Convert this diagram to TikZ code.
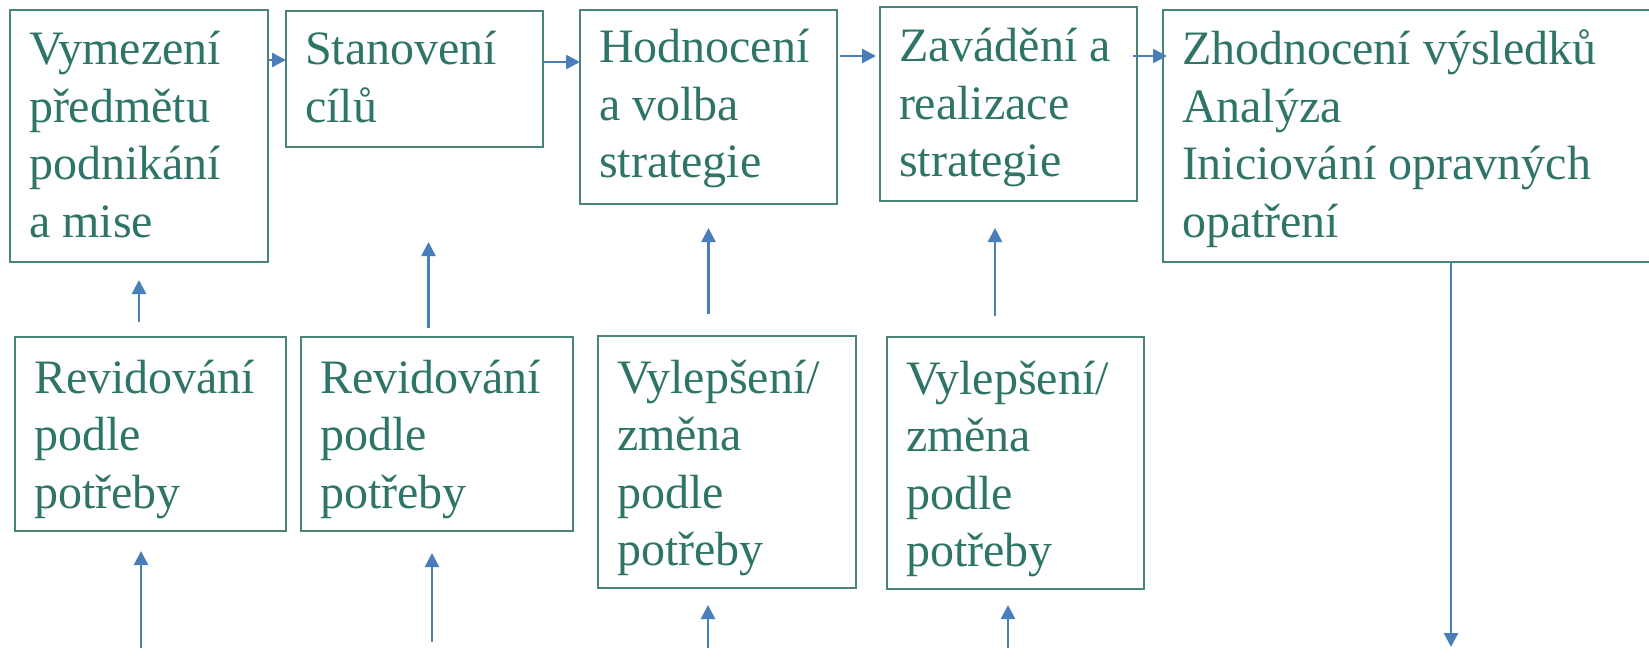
\documentclass[tikz,border=0pt]{standalone}
\usepackage{fontspec}
\setmainfont{Liberation Serif}
\usetikzlibrary{arrows.meta}
\definecolor{txt}{RGB}{46,117,103}
\definecolor{brd}{RGB}{72,132,120}
\definecolor{arw}{RGB}{74,126,187}
\newcommand{\bxt}[4]{\parbox[t][#2][t]{#1}{\leftskip=19pt\fontsize{48pt}{57.5pt}\selectfont\rule{0pt}{#3}#4}}
\begin{document}
\begin{tikzpicture}[x=1pt,y=-1pt,
  box/.style={draw=brd,line width=1.3pt,inner sep=0pt,outer sep=0pt,anchor=north west,text=txt},
  arr/.style={draw=arw,line width=2.5pt,-{Triangle[length=14pt,width=14pt]}}]
\useasboundingbox (0,0) rectangle (1649,661);
\clip (0,0) rectangle (1649,661);
% top row
\node[box] (b1) at (10,10)   {\bxt{258pt}{252pt}{55pt}{Vymezení\\předmětu\\podnikání\\a mise}};
\node[box] (b2) at (286,11)  {\bxt{257pt}{136pt}{54pt}{Stanovení\\cílů}};
\node[box] (b3) at (580,10)  {\bxt{257pt}{194pt}{53pt}{Hodnocení\\a volba\\strategie}};
\node[box] (b4) at (880,7)   {\bxt{257pt}{194pt}{55pt}{Zavádění a\\realizace\\strategie}};
\node[box] (b5) at (1163,10) {\bxt{576pt}{252pt}{55pt}{Zhodnocení výsledků\\Analýza\\Iniciování opravných\\opatření}};
% bottom row
\node[box] (b6) at (15,337)  {\bxt{271pt}{194pt}{56pt}{Revidování\\podle\\potřeby}};
\node[box] (b7) at (301,337) {\bxt{272pt}{194pt}{56pt}{Revidování\\podle\\potřeby}};
\node[box] (b8) at (598,336) {\bxt{258pt}{252pt}{57pt}{Vylepšení/\\změna\\podle\\potřeby}};
\node[box] (b9) at (887,337) {\bxt{257pt}{252pt}{57pt}{Vylepšení/\\změna\\podle\\potřeby}};
% horizontal arrows
\draw[arr] ([yshift=-50pt]b1.north east) -- ([yshift=-49pt]b2.north west);
\draw[arr] ([yshift=-51pt]b2.north east) -- ([yshift=-52pt]b3.north west);
\draw[arr,shorten <=3pt,shorten >=4pt] ([yshift=-46pt]b3.north east) -- ([yshift=-49pt]b4.north west);
\draw[arr,shorten <=-4pt,shorten >=-4pt] ([yshift=-49pt]b4.north east) -- ([yshift=-46pt]b5.north west);
% vertical arrows between rows
\coordinate (c2) at ([xshift=14pt]b2.south);
\coordinate (c4) at ([xshift=-13.5pt]b4.south);
\draw[arr,shorten <=15pt,shorten >=18pt] (b6.north -| b1.south) -- (b1.south);
\draw[arr,shorten <=9pt,shorten >=95pt] (c2 |- b7.north) -- (c2);
\draw[arr,shorten <=22pt,shorten >=24pt] (b8.north -| b3.south) -- (b3.south);
\draw[arr,shorten <=21pt,shorten >=27pt] (c4 |- b9.north) -- (c4);
% bottom arrows
\coordinate (e6) at (141,648);
\coordinate (e7) at (432,642);
\coordinate (e8) at (708,648);
\coordinate (e9) at (1008,648);
\coordinate (e5) at (1451,647);
\draw[arr,shorten >=20pt] (e6) -- (e6 |- b6.south);
\draw[arr,shorten >=22pt] (e7) -- (e7 |- b7.south);
\draw[arr,shorten >=17pt] (e8) -- (e8 |- b8.south);
\draw[arr,shorten >=16pt] (e9) -- (e9 |- b9.south);
\draw[arr] (b5.south) -- (e5);
\end{tikzpicture}
\end{document}
